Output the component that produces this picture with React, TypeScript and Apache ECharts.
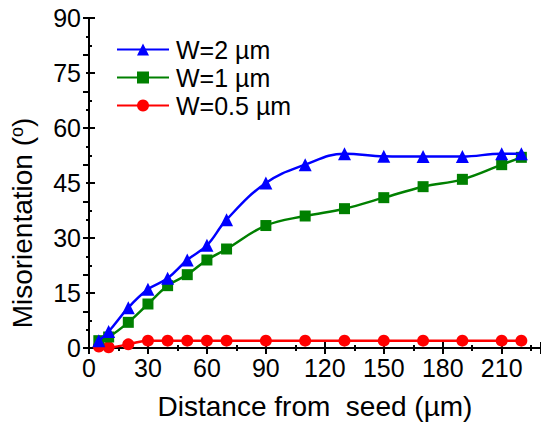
import React, { useEffect, useRef } from "react";
import * as echarts from "echarts";

const distances = [5, 10, 20, 30, 40, 50, 60, 70, 90, 110, 130, 150, 170, 190, 210, 220];
const w2Values = [2, 4.5, 11, 16, 19, 24, 28, 35, 45, 50, 53, 52.3, 52.2, 52.2, 53, 53];
const w1Values = [2, 3, 7, 12, 17, 20, 24, 27, 33.4, 36, 38, 41, 44, 46, 50, 52];
const w05Values = [0.4, 0.2, 1, 2, 2, 2, 2, 2, 2, 2, 2, 2, 2, 2, 2, 2];
const seriesNames = ["W=2 µm", "W=1 µm", "W=0.5 µm"];
const xTitle = "Distance from  seed (µm)";

const FONT = '"Liberation Sans", Arial, sans-serif';

export default function App() {
  const ref = useRef<HTMLDivElement>(null);
  useEffect(() => {
    if (!ref.current) return;
    const chart = echarts.init(ref.current, undefined, { renderer: "svg" });
    const pairs = (vals: number[]) => distances.map((d, i) => [d, vals[i]]);
    const tickCommon = { show: true, inside: true, length: 6, lineStyle: { color: "#000", width: 2 } };
    const minorCommon = { show: true, length: 3, splitNumber: 2, lineStyle: { color: "#000", width: 2 } };
    const lineAxis = { show: true, lineStyle: { color: "#000", width: 2 } };
    chart.setOption({
      animation: false,
      backgroundColor: "#fff",
      grid: { left: 89, top: 18, right: 0, bottom: 80 },
      legend: {
        orient: "vertical",
        left: 111,
        top: 32,
        itemWidth: 52,
        itemHeight: 15,
        itemGap: 3,
        data: seriesNames,
        textStyle: { fontSize: 25, fontFamily: FONT, color: "#000", padding: [0, 0, 0, 2] },
      },
      xAxis: [
        {
          type: "value",
          min: 0,
          max: 230,
          interval: 30,
          position: "bottom",
          axisLine: lineAxis,
          axisTick: tickCommon,
          minorTick: minorCommon,
          splitLine: { show: false },
          axisLabel: {
            fontSize: 25,
            fontFamily: FONT,
            color: "#000",
            margin: 7,
            showMaxLabel: false,
          },
          name: xTitle,
          nameLocation: "middle",
          nameGap: 44,
          nameTextStyle: { fontSize: 28, fontFamily: FONT, color: "#000" },
        },
        {
          type: "value",
          min: 0,
          max: 230,
          interval: 30,
          position: "top",
          axisLine: lineAxis,
          axisTick: tickCommon,
          minorTick: minorCommon,
          splitLine: { show: false },
          axisLabel: { show: false },
        },
      ],
      yAxis: [
        {
          type: "value",
          min: 0,
          max: 90,
          interval: 15,
          position: "left",
          axisLine: lineAxis,
          axisTick: tickCommon,
          minorTick: minorCommon,
          splitLine: { show: false },
          axisLabel: { fontSize: 25, fontFamily: FONT, color: "#000", margin: 8 },
        },
        {
          type: "value",
          min: 0,
          max: 90,
          interval: 10,
          position: "right",
          axisLine: { show: false },
          axisTick: tickCommon,
          minorTick: minorCommon,
          splitLine: { show: false },
          axisLabel: { show: false },
        },
      ],
      graphic: [
        {
          type: "text",
          x: 22,
          y: 223,
          rotation: Math.PI / 2,
          style: {
            text: "{a|Misorientation (}{s|o}{a|)}",
            align: "center",
            verticalAlign: "middle",
            rich: {
              a: { fontSize: 28, fontFamily: FONT, fill: "#000", lineHeight: 32 },
              s: { fontSize: 18, fontFamily: FONT, fill: "#000", lineHeight: 32, verticalAlign: "top", padding: [2, 0, 0, 0] },
            },
          },
        },
      ],
      series: [
        {
          name: seriesNames[0],
          type: "line",
          data: pairs(w2Values),
          smooth: 0.4,
          symbol: "triangle",
          symbolSize: 13,
          color: "#0000ff",
          lineStyle: { width: 2.5, color: "#0000ff" },
          itemStyle: { color: "#0000ff" },
          z: 4,
        },
        {
          name: seriesNames[1],
          type: "line",
          data: pairs(w1Values),
          smooth: 0.4,
          symbol: "rect",
          symbolSize: 11,
          color: "#008000",
          lineStyle: { width: 2.5, color: "#008000" },
          itemStyle: { color: "#008000" },
          z: 3,
        },
        {
          name: seriesNames[2],
          type: "line",
          data: pairs(w05Values),
          smooth: 0.4,
          symbol: "circle",
          symbolSize: 12,
          color: "#ff0000",
          lineStyle: { width: 2.5, color: "#ff0000" },
          itemStyle: { color: "#ff0000" },
          z: 2,
        },
      ],
    });
    return () => chart.dispose();
  }, []);
  return (
    <div
      ref={ref}
      style={{ position: "absolute", left: 0, top: 0, width: 541, height: 428 }}
    />
  );
}
